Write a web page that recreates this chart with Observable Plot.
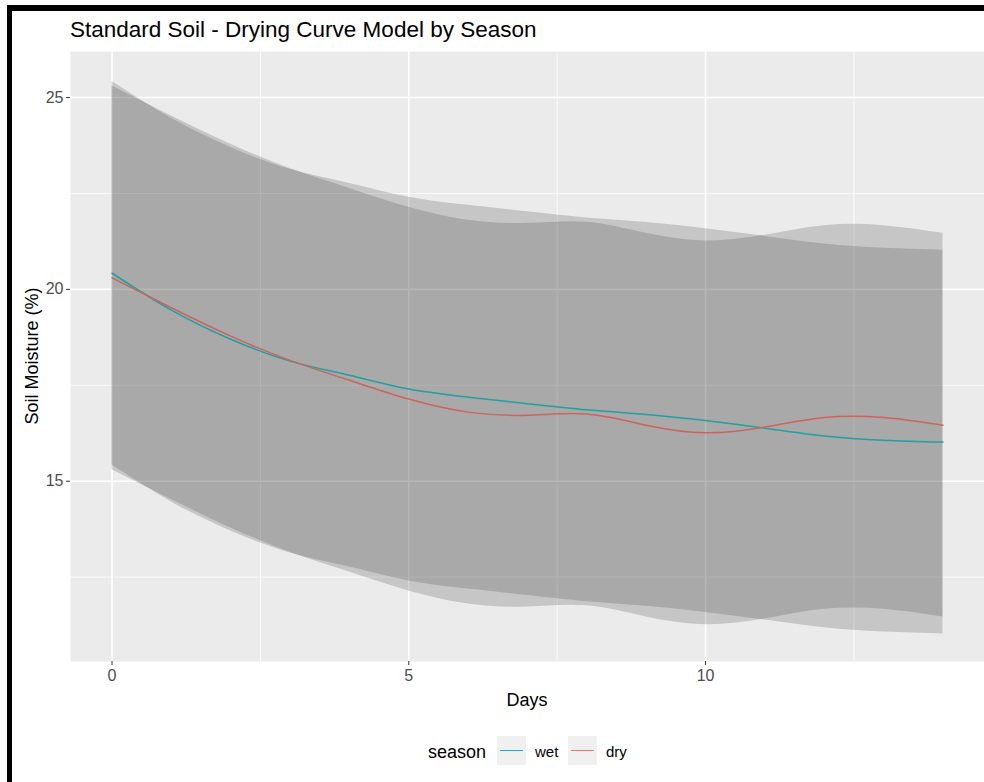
<!DOCTYPE html>
<html>
<head>
<meta charset="utf-8">
<script src="https://cdn.jsdelivr.net/npm/d3@7"></script>
<script src="https://cdn.jsdelivr.net/npm/@observablehq/plot@0.6"></script>
<style>
  html, body { margin: 0; padding: 0; background: #fff; }
  body { width: 984px; height: 782px; position: relative; overflow: hidden; font-family: "Liberation Sans", Arial, sans-serif; }
  #frame { position: absolute; left: 7px; top: 5px; right: 0; bottom: 0; border-top: 6px solid #000; border-left: 5px solid #000; pointer-events: none; z-index: 5; }
  #chart { position: absolute; left: 0; top: 0; }
  .t { position: absolute; line-height: 1; white-space: nowrap; color: #000; }
  .key { position: absolute; width: 29px; height: 29px; background: #f0f0f0; }
  .key span { position: absolute; left: 3px; right: 3px; top: 13.5px; height: 1.6px; }
</style>
</head>
<body>
<div id="frame"></div>
<div id="chart"></div>
<div class="t" id="title" style="left:70px; top:19px; font-size:22.5px;">Standard Soil - Drying Curve Model by Season</div>
<div class="t" id="xlab" style="left:527px; top:691px; font-size:18px; transform:translateX(-50%);">Days</div>
<div class="t" id="ylab" style="left:32px; top:356px; font-size:18px; transform:translate(-50%,-50%) rotate(-90deg);">Soil Moisture (%)</div>
<div class="t" style="left:428px; top:743px; font-size:18px;">season</div>
<div class="key" style="left:497px; top:736px;"><span style="background:#00BFC4"></span></div>
<div class="t" style="left:535px; top:744px; font-size:15px;">wet</div>
<div class="key" style="left:568px; top:736px;"><span style="background:#F8766D"></span></div>
<div class="t" style="left:606px; top:744px; font-size:15px;">dry</div>
<script>
// ---- data ----
const days    = [0, 1, 2, 3, 4, 5, 6, 7, 8, 9, 10, 11, 12, 13, 14];
const wetFit  = [20.42, 19.46, 18.70, 18.13, 17.76, 17.40, 17.19, 17.02, 16.86, 16.74, 16.58, 16.38, 16.18, 16.07, 16.02];
const wetLow  = [15.42, 14.46, 13.70, 13.13, 12.76, 12.40, 12.19, 12.02, 11.86, 11.74, 11.58, 11.38, 11.18, 11.07, 11.02];
const wetHigh = [25.42, 24.46, 23.70, 23.13, 22.76, 22.40, 22.19, 22.02, 21.86, 21.74, 21.58, 21.38, 21.18, 21.07, 21.02];
const dryFit  = [20.30, 19.52, 18.78, 18.15, 17.63, 17.14, 16.80, 16.72, 16.75, 16.46, 16.26, 16.41, 16.66, 16.66, 16.46];
const dryLow  = [15.30, 14.52, 13.78, 13.15, 12.63, 12.14, 11.80, 11.72, 11.75, 11.46, 11.26, 11.41, 11.66, 11.66, 11.46];
const dryHigh = [25.30, 24.52, 23.78, 23.15, 22.63, 22.14, 21.80, 21.72, 21.75, 21.46, 21.26, 21.41, 21.66, 21.66, 21.46];
const seasons = ["wet", "dry"];
const xTicks = [0, 5, 10];
const xMinor = [2.5, 7.5, 12.5];
const yTicks = [15, 20, 25];
const yMinor = [12.5, 17.5, 22.5];

const rows = [];
days.forEach((d, i) => {
  rows.push({season: "wet", day: d, fit: wetFit[i], lo: wetLow[i], hi: wetHigh[i]});
});
days.forEach((d, i) => {
  rows.push({season: "dry", day: d, fit: dryFit[i], lo: dryLow[i], hi: dryHigh[i]});
});
const lineColor = {wet: "#21A0A2", dry: "#CC645E"};

const plot = Plot.plot({
  width: 984,
  height: 782,
  marginTop: 51,
  marginBottom: 121,
  marginLeft: 70,
  marginRight: 0,
  style: {fontFamily: "Liberation Sans, Arial, sans-serif", fontSize: "16px", background: "transparent", overflow: "visible"},
  x: {domain: [-0.7, 14.7]},
  y: {domain: [10.3, 26.2]},
  marks: [
    Plot.frame({fill: "#EBEBEB", stroke: null}),
    Plot.gridX(xMinor, {stroke: "#fff", strokeOpacity: 1, strokeWidth: 0.8}),
    Plot.gridY(yMinor, {stroke: "#fff", strokeOpacity: 1, strokeWidth: 0.8}),
    Plot.gridX(xTicks, {stroke: "#fff", strokeOpacity: 1, strokeWidth: 1.6}),
    Plot.gridY(yTicks, {stroke: "#fff", strokeOpacity: 1, strokeWidth: 1.6}),
    Plot.areaY(rows, {x: "day", y1: "lo", y2: "hi", z: "season", fill: "#404040", fillOpacity: 0.216, curve: "natural"}),
    Plot.line(rows, {x: "day", y: "fit", z: "season", stroke: d => lineColor[d.season], strokeWidth: 1.5, curve: "natural"}),
    Plot.axisX({ticks: xTicks, tickSize: 4, tickPadding: 4, stroke: "#333", fill: "#4D4D4D", label: null, fontSize: 16}),
    Plot.axisY({ticks: yTicks, tickSize: 4, tickPadding: 3, stroke: "#333", fill: "#4D4D4D", label: null, fontSize: 16})
  ]
});
document.getElementById("chart").appendChild(plot);
</script>
</body>
</html>
